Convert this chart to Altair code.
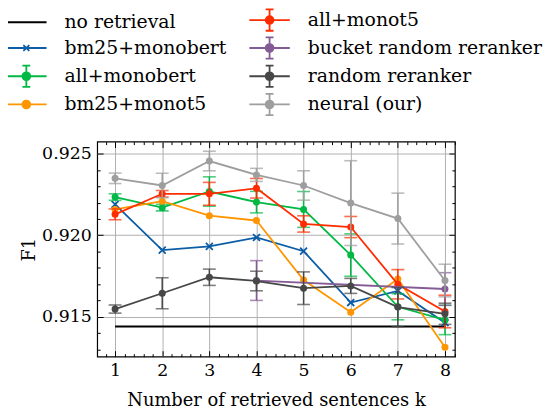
import altair as alt
import pandas as pd

FONT = "DejaVu Serif"

# ---------------- data ----------------
k_all = [1, 2, 3, 4, 5, 6, 7, 8]
no_retrieval_f1 = [0.9144, 0.9144, 0.9144, 0.9144, 0.9144, 0.9144, 0.9144, 0.9144]
bm25_monobert_f1 = [0.92189, 0.91908, 0.91931, 0.91986, 0.91902, 0.91587, 0.91658, 0.91463]
all_monobert_f1 = [0.92234, 0.92169, 0.92268, 0.92203, 0.92158, 0.91878, 0.91561, 0.91480]
all_monobert_err = [0.0002, 0.0002, 0.0009, 0.00066, 0.0011, 0.0013, 0.0008, 0.0009]
bm25_monot5_f1 = [0.92158, 0.92209, 0.92120, 0.92090, 0.91725, 0.91528, 0.91731, 0.91312]
all_monot5_f1 = [0.92128, 0.92254, 0.92254, 0.92288, 0.92069, 0.92050, 0.91699, 0.91532]
all_monot5_err = [0.00033, 0.0002, 0.0007, 0.0006, 0.0005, 0.00065, 0.0009, 0.001]
bucket_k = [4, 8]
bucket_f1 = [0.91722, 0.91670]
bucket_err = [0.00122, 0.001]
random_f1 = [0.91547, 0.91644, 0.91742, 0.91719, 0.91675, 0.91689, 0.91559, 0.91518]
random_err = [0.00025, 0.00095, 0.0005, 0.0006, 0.001, 0.00046, 0.0012, 0.00065]
neural_f1 = [0.92349, 0.92305, 0.92455, 0.92370, 0.92305, 0.92197, 0.92102, 0.91722]
neural_err = [0.00032, 0.00075, 0.0006, 0.0004, 0.0009, 0.0026, 0.00156, 0.001]

x_ticks_major = [1, 2, 3, 4, 5, 6, 7, 8]
x_ticks_minor = [0.8, 1.2, 1.4, 1.6, 1.8, 2.2, 2.4, 2.6, 2.8, 3.2, 3.4, 3.6, 3.8,
                 4.2, 4.4, 4.6, 4.8, 5.2, 5.4, 5.6, 5.8, 6.2, 6.4, 6.6, 6.8,
                 7.2, 7.4, 7.6, 7.8, 8.2]
y_ticks_major = [0.915, 0.920, 0.925]
y_ticks_minor = [0.913, 0.914, 0.916, 0.917, 0.918, 0.919, 0.921, 0.922, 0.923, 0.924]

# series: name, color, k, values, errors, marker
series = [
    ("no retrieval", "#000000", k_all, no_retrieval_f1, None, None),
    ("bm25+monobert", "#0C5DA5", k_all, bm25_monobert_f1, None, "x"),
    ("all+monobert", "#00B945", k_all, all_monobert_f1, all_monobert_err, "o"),
    ("bm25+monot5", "#FF9500", k_all, bm25_monot5_f1, None, "o"),
    ("all+monot5", "#FF2C00", k_all, all_monot5_f1, all_monot5_err, "o"),
    ("bucket random reranker", "#845B97", bucket_k, bucket_f1, bucket_err, "o"),
    ("random reranker", "#474747", k_all, random_f1, random_err, "o"),
    ("neural (our)", "#9e9e9e", k_all, neural_f1, neural_err, "o"),
]

W, H = 361, 217
xs = alt.Scale(domain=[0.62, 8.21], nice=False, zero=False)
ys = alt.Scale(domain=[0.91255, 0.92574], nice=False, zero=False)

X_CROSS = "M-1,-1L1,1M-1,1L1,-1"


def xenc(axis=None):
    return alt.X("k:Q", scale=xs, axis=axis)


def yenc(field="f1", axis=None):
    return alt.Y(f"{field}:Q", scale=ys, axis=axis)


layers = []

main_x_axis = alt.Axis(
    orient="bottom", values=x_ticks_major, format="d", grid=True,
    gridColor="#b0b0b0", gridWidth=1, ticks=False, domain=False,
    labelFont=FONT, labelFontSize=17.5, labelColor="black", labelPadding=5,
    title="Number of retrieved sentences k", titleFont=FONT, titleFontSize=18,
    titleFontWeight="normal", titleColor="black", titlePadding=13,
)
main_y_axis = alt.Axis(
    orient="left", values=y_ticks_major, format=".3f", grid=True,
    gridColor="#b0b0b0", gridWidth=1, ticks=False, domain=False,
    labelFont=FONT, labelFontSize=17.5, labelColor="black", labelPadding=6,
    title="F1", titleFont=FONT, titleFontSize=18, titleFontWeight="normal",
    titleColor="black", titleAngle=270, titleX=-68, titleY=108.5,
    titleAlign="center", titleBaseline="middle",
)

for name, color, ks, vals, errs, marker in series:
    df = pd.DataFrame({"k": ks, "f1": vals})
    if errs is not None:
        df["lo"] = [v - e for v, e in zip(vals, errs)]
        df["hi"] = [v + e for v, e in zip(vals, errs)]
    base = alt.Chart(df)
    if name == "no retrieval":
        layers.append(base.mark_line(color=color, strokeWidth=1.8).encode(
            x=xenc(main_x_axis), y=yenc("f1", main_y_axis)))
        continue
    layers.append(base.mark_line(color=color, strokeWidth=1.8).encode(x=xenc(), y=yenc()))
    if errs is not None:
        layers.append(base.mark_rule(color=color, strokeWidth=1.5).encode(
            x=xenc(), y=yenc("lo"), y2="hi:Q"))
        layers.append(base.mark_tick(color=color, thickness=1.6, size=13, orient="horizontal").encode(
            x=xenc(), y=yenc("lo")))
        layers.append(base.mark_tick(color=color, thickness=1.6, size=13, orient="horizontal").encode(
            x=xenc(), y=yenc("hi")))
    if marker == "x":
        layers.append(base.mark_point(shape=X_CROSS, filled=False, size=49, strokeWidth=1.8,
                                      color=color, opacity=1).encode(x=xenc(), y=yenc()))
    else:
        layers.append(base.mark_point(shape="circle", filled=True, size=50,
                                      color=color, opacity=1).encode(x=xenc(), y=yenc()))

# inward ticks via flipped, offset axes on invisible layers
tick_df = pd.DataFrame({"k": k_all, "f1": no_retrieval_f1})


def tick_axis(orient, values, size, offset):
    return alt.Axis(orient=orient, offset=offset, values=values, ticks=True, tickSize=size,
                    tickColor="black", tickWidth=1, labels=False, domain=False, grid=False,
                    title=None, zindex=2)


tick_specs = [
    (tick_axis("top", x_ticks_major, 6, -H), tick_axis("right", y_ticks_major, 6, -W)),
    (tick_axis("top", x_ticks_minor, 3, -H), tick_axis("right", y_ticks_minor, 3, -W)),
    (tick_axis("bottom", x_ticks_major, 6, -H), tick_axis("left", y_ticks_major, 6, -W)),
    (tick_axis("bottom", x_ticks_minor, 3, -H), tick_axis("left", y_ticks_minor, 3, -W)),
]
for xa, ya in tick_specs:
    layers.append(alt.Chart(tick_df).mark_point(opacity=0).encode(
        x=xenc(xa), y=yenc("f1", ya)))

# legend (column-major fill, two columns)
legend_order = [s[0] for s in series]
color_of = {s[0]: s[1] for s in series}
LINE = "M-1.7,0H1.7"
DOT = "M-0.33,0A0.33,0.33 0 1,0 0.33,0A0.33,0.33 0 1,0 -0.33,0"
ERR = "M0,-0.9V0.9M-0.33,-0.9H0.33M-0.33,0.9H0.33"
XS = "M-0.25,-0.25L0.25,0.25M-0.25,0.25L0.25,-0.25"
shape_of = {
    "no retrieval": LINE,
    "bm25+monobert": LINE + XS,
    "all+monobert": LINE + ERR + DOT,
    "bm25+monot5": LINE + DOT,
    "all+monot5": LINE + ERR + DOT,
    "bucket random reranker": LINE + ERR + DOT,
    "random reranker": LINE + ERR + DOT,
    "neural (our)": LINE + ERR + DOT,
}
leg = alt.Legend(
    title=None, orient="none", legendX=-84.5, legendY=-136, columns=2,
    columnPadding=18.5, rowPadding=-1.5, padding=0, symbolSize=576,
    symbolStrokeWidth=1.8, symbolOpacity=1, labelOffset=25.5,
    labelFont=FONT, labelFontSize=19, labelColor="black", labelLimit=500,
)
leg_df = pd.DataFrame({"series": legend_order})
layers.append(alt.Chart(leg_df).mark_point(clip=True, strokeWidth=1.8).encode(
    x=alt.value(-2000), y=alt.value(-2000),
    fill=alt.Fill("series:N", scale=alt.Scale(domain=legend_order,
                  range=[color_of[s] for s in legend_order]), legend=leg),
    stroke=alt.Stroke("series:N", scale=alt.Scale(domain=legend_order,
                      range=[color_of[s] for s in legend_order]), legend=leg),
    shape=alt.Shape("series:N", scale=alt.Scale(domain=legend_order,
                    range=[shape_of[s] for s in legend_order]), legend=leg),
))

chart = alt.layer(*layers).resolve_axis(x="independent", y="independent").properties(
    width=W, height=H,
    padding={"left": 90, "top": 133, "right": 96, "bottom": 55},
    autosize=alt.AutoSizeParams(type="none"),
    background="white",
).configure_view(stroke="black", strokeWidth=1.2)

chart.save("out.html", embed_options={"renderer": "svg", "actions": False})
